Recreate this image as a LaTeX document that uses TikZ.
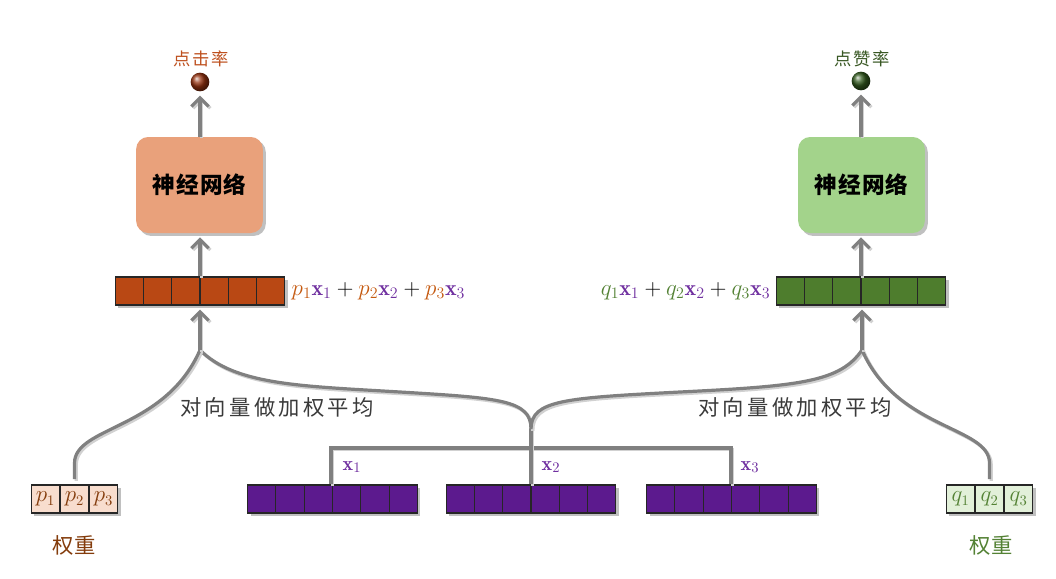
\documentclass[tikz,border=0pt]{standalone}
\usepackage{fontspec}
\usepackage{amsmath}
\newfontfamily\cjk{Noto Sans CJK SC}
\usetikzlibrary{arrows.meta,shadows,calc}
\definecolor{lineg}{RGB}{128,128,128}
\definecolor{vred}{RGB}{185,72,20}
\definecolor{vgreen}{RGB}{78,125,45}
\definecolor{vpurp}{RGB}{92,26,142}
\definecolor{nnred}{RGB}{233,161,123}
\definecolor{nngreen}{RGB}{163,211,139}
\definecolor{wred}{RGB}{248,221,206}
\definecolor{wgreen}{RGB}{226,240,217}
\definecolor{pcol}{RGB}{197,90,17}
\definecolor{qcol}{RGB}{84,130,53}
\definecolor{xcol}{RGB}{112,48,160}
\definecolor{brownt}{RGB}{132,60,12}
\definecolor{clickt}{RGB}{190,80,30}
\definecolor{liket}{RGB}{56,87,35}
\definecolor{labelg}{RGB}{58,58,58}
\begin{document}
\begin{tikzpicture}[x=0.75pt,y=-0.75pt,
  shad/.style={drop shadow={shadow xshift=2.2pt,shadow yshift=-2.2pt,opacity=0.35,fill=black!70}},
  cell/.style={draw=black!85, line width=0.8pt, minimum height=21pt, inner sep=0pt},
  vec/.style={cell, minimum width=127pt, shad},
  wcell/.style={cell, minimum width=21.6pt, font=\fontsize{16}{18}\selectfont},
  sep/.style={draw=black!85, line width=0.8pt},
  nn/.style={rounded corners=9pt, minimum width=95pt, minimum height=72pt, shad,
    font=\cjk\bfseries\fontsize{17}{19}\selectfont\addfontfeature{LetterSpace=5}},
  gline/.style={draw=lineg, line width=2.4pt,
    preaction={draw=black!18, line width=2.4pt, transform canvas={shift={(1.3pt,-1.3pt)}}}},
  garrow/.style={gline, -{Straight Barb[length=6.5pt,width=13pt]}, shorten >=3pt},
  ball/.style={circle, minimum size=14pt, inner sep=0pt},
  wlab/.style={font=\cjk\fontsize{16}{18}\selectfont\addfontfeature{LetterSpace=5}},
  plab/.style={font=\cjk\fontsize{13}{15}\selectfont\addfontfeature{LetterSpace=8}},
  avg/.style={font=\cjk\fontsize{16}{18}\selectfont\addfontfeature{LetterSpace=15}, text=labelg},
  xlab/.style={font=\fontsize{15}{17}\selectfont, text=xcol},
  mlab/.style={font=\fontsize{16.5}{18}\selectfont}]
\useasboundingbox[fill=white] (0,0) rectangle (1056,578);

% ---- input vectors
\node[vec, fill=vpurp] (v1) at (332.5,499) {};
\node[vec, fill=vpurp] (v2) at (531,499) {};
\node[vec, fill=vpurp] (v3) at (731.5,499) {};
\node[vec, fill=vred] (lv) at (200,291) {};
\node[vec, fill=vgreen] (rv) at (861,291) {};
\foreach \v in {v1,v2,v3,lv,rv}{
  \foreach \i in {1,...,5}{
    \draw[sep] ($(\v.south west)!\i/6!(\v.south east)$) -- ($(\v.north west)!\i/6!(\v.north east)$);
  }
}

% ---- weights
\node[wcell, fill=wred, shad] (pw1) at (45.5,499) {$\textcolor{brownt}{p_1}$};
\node[wcell, fill=wred, shad] (pw2) at (74.5,499) {$\textcolor{brownt}{p_2}$};
\node[wcell, fill=wred, shad] (pw3) at (103.5,499) {$\textcolor{brownt}{p_3}$};
\node[wcell, fill=wgreen, shad] (qw1) at (960.5,499) {$\textcolor{qcol}{q_1}$};
\node[wcell, fill=wgreen, shad] (qw2) at (989.5,499) {$\textcolor{qcol}{q_2}$};
\node[wcell, fill=wgreen, shad] (qw3) at (1018.5,499) {$\textcolor{qcol}{q_3}$};
\node[wlab, text=brownt] (wl) at (74,545) {权重};
\node[wlab, text=qcol] (wr) at (991,545) {权重};

% ---- labels on vectors
\node[xlab] (x1) at (352,467) {$\mathbf{x}_1$};
\node[xlab] (x2) at (551,467) {$\mathbf{x}_2$};
\node[xlab] (x3) at (750,467) {$\mathbf{x}_3$};
\node[mlab, anchor=west] (ml) at (287,291) {$\textcolor{pcol}{p_1}\textcolor{xcol}{\mathbf{x}_1}+\textcolor{pcol}{p_2}\textcolor{xcol}{\mathbf{x}_2}+\textcolor{pcol}{p_3}\textcolor{xcol}{\mathbf{x}_3}$};
\node[mlab, anchor=east] (mr) at (775,291) {$\textcolor{qcol}{q_1}\textcolor{xcol}{\mathbf{x}_1}+\textcolor{qcol}{q_2}\textcolor{xcol}{\mathbf{x}_2}+\textcolor{qcol}{q_3}\textcolor{xcol}{\mathbf{x}_3}$};
\node[avg] (al) at (277,407) {对向量做加权平均};
\node[avg] (ar) at (795,407) {对向量做加权平均};

% ---- networks and outputs
\node[nn, fill=nnred] (nnl) at (199.5,185) {神经网络};
\node[nn, fill=nngreen] (nnr) at (861.5,185) {神经网络};
\node[ball, ball color={rgb,255:red,150;green,50;blue,15}] (bl) at (200,82) {};
\node[ball, ball color={rgb,255:red,50;green,90;blue,30}] (br) at (861,81) {};
\node[plab, text=clickt] (tl) at (201,59) {点击率};
\node[plab, text=liket] (tr) at (862,59) {点赞率};

% ---- connectors
\coordinate (jl) at (200,350);
\coordinate (jr) at (862,350);
\coordinate (jm) at (531,429);
\coordinate (b1) at (331,448);
\coordinate (b3) at (731,448);

\draw[gline] (v1.north -| b1) -- (b1) -- (b3) -- (v3.north -| b3);
\draw[gline] (v2.north) -- (jm);
\draw[gline] (jl) .. controls (235,385) and (300,386) .. (400,392) .. controls (500,398) and (531,400) .. (jm);
\draw[gline] (jm) .. controls (531,400) and (565,398) .. (680,392) .. controls (800,386) and (840,382) .. (jr);
\draw[gline] ([yshift=4pt]pw2.north) -- ++(0,-16) .. controls +(0,-37) and (165,430) .. (jl);
\draw[gline] ([yshift=4pt]qw2.north) -- ++(0,-16) .. controls +(0,-37) and (897,430) .. (jr);

\draw[garrow] (jl) -- (lv.south);
\draw[garrow] (jr) -- (rv.south -| jr);
\draw[garrow] (lv.north) -- (nnl.south -| lv.north);
\draw[garrow] (rv.north) -- (nnr.south -| rv.north);
\draw[garrow] (nnl.north -| bl) -- (bl.south);
\draw[garrow] (nnr.north -| br) -- (br.south);
\end{tikzpicture}
\end{document}
